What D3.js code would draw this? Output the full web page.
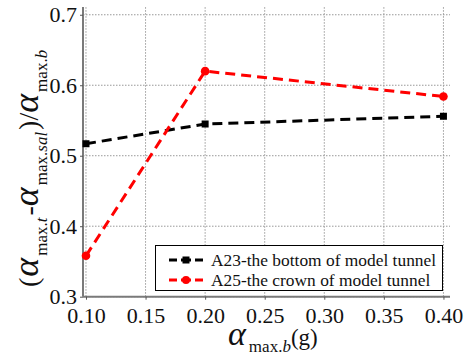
<!DOCTYPE html>
<html><head><meta charset="utf-8">
<script src="https://cdn.jsdelivr.net/npm/d3@7"></script>
<style>body{margin:0;background:#fff}svg{display:block}</style>
</head><body>
<svg id="c" width="470" height="358"></svg>
<script>
const xValues = [0.10, 0.20, 0.40];
const seriesA23 = [0.517, 0.545, 0.556];
const seriesA25 = [0.358, 0.620, 0.584];
const xTicks = [0.10, 0.15, 0.20, 0.25, 0.30, 0.35, 0.40];
const yTicks = [0.3, 0.4, 0.5, 0.6, 0.7];
const legendLabels = ["A23-the bottom of model tunnel", "A25-the crown of model tunnel"];

const svg = d3.select("#c");
const font = '"Liberation Serif"';
const x = d3.scaleLinear().domain([0.0975, 0.4055]).range([83, 450]);
const y = d3.scaleLinear().domain([0.3, 0.711]).range([296.7, 7]);

// grid
const g = svg.append("g");
g.selectAll(".vg").data(xTicks).enter().append("line")
  .attr("x1", d => x(d)).attr("x2", d => x(d)).attr("y1", y(0.3)).attr("y2", y(0.711))
  .attr("stroke", "#999").attr("stroke-width", 1).attr("stroke-dasharray", "1.5,1.5");
g.selectAll(".hg").data(yTicks).enter().append("line")
  .attr("x1", x(0.0975)).attr("x2", x(0.4055)).attr("y1", d => y(d)).attr("y2", d => y(d))
  .attr("stroke", "#999").attr("stroke-width", 1).attr("stroke-dasharray", "1.5,1.5");

// axes
const xAxis = d3.axisBottom(x).tickValues(xTicks).tickFormat(d3.format(".2f")).tickSize(3).tickPadding(8);
const yAxis = d3.axisLeft(y).tickValues(yTicks).tickFormat(d3.format(".1f")).tickSize(3).tickPadding(3);
const gx = svg.append("g").attr("transform", `translate(0,${y(0.3)})`).call(xAxis);
const gy = svg.append("g").attr("transform", `translate(${x(0.0975)},0)`).call(yAxis);
[gx, gy].forEach(a => {
  a.attr("font-family", "Liberation Serif").style("font-family", font).attr("font-size", 22);
  a.select(".domain").attr("stroke", "#7a7a7a").attr("stroke-width", 2);
  a.selectAll(".tick line").attr("stroke", "#555");
  a.selectAll(".tick text").attr("font-family", "Liberation Serif").style("font-family", font)
    .attr("font-size", 22).attr("fill", "#111");
});
gy.select(".domain").attr("d", `M-0,${y(0.711)}V${y(0.3)}`);
gx.select(".domain").attr("d", `M${x(0.0975)},0H${x(0.4055)}`);

// lines
const line = d3.line().x((d, i) => x(xValues[i])).y(d => y(d));
function drawSeries(vals, color, shape) {
  svg.append("path").datum(vals).attr("d", line).attr("fill", "none")
    .attr("stroke", color).attr("stroke-width", 3).attr("stroke-dasharray", "10,6");
  if (shape === "square") {
    svg.selectAll(null).data(vals).enter().append("rect")
      .attr("x", (d, i) => x(xValues[i]) - 3.5).attr("y", d => y(d) - 3.5)
      .attr("width", 7).attr("height", 7).attr("fill", color);
  } else {
    svg.selectAll(null).data(vals).enter().append("circle")
      .attr("cx", (d, i) => x(xValues[i])).attr("cy", d => y(d)).attr("r", 4.3).attr("fill", color);
  }
}
drawSeries(seriesA23, "#000", "square");
drawSeries(seriesA25, "#ff0000", "circle");

// legend
const lg = svg.append("g");
lg.append("rect").attr("x", 155.5).attr("y", 245.5).attr("width", 287).attr("height", 45)
  .attr("fill", "#fff").attr("stroke", "#000").attr("stroke-width", 1);
const lcolors = ["#000", "#ff0000"];
legendLabels.forEach((t, i) => {
  const cy = 260 + i * 20;
  lg.append("line").attr("x1", 169).attr("x2", 203).attr("y1", cy).attr("y2", cy)
    .attr("stroke", lcolors[i]).attr("stroke-width", 3).attr("stroke-dasharray", "8,4,10,4");
  if (i === 0) lg.append("rect").attr("x", 182.5).attr("y", cy - 3.5).attr("width", 7).attr("height", 7).attr("fill", lcolors[i]);
  else lg.append("circle").attr("cx", 186).attr("cy", cy).attr("r", 4).attr("fill", lcolors[i]);
  lg.append("text").attr("x", 211).attr("y", cy + 5.5).style("font-family", font).attr("font-size", 17.4)
    .attr("fill", "#111").text(t);
});

// x label
const xl = svg.append("text").attr("x", 228).attr("y", 345).style("font-family", font).attr("fill", "#111");
xl.append("tspan").attr("font-size", 34).attr("font-style", "italic").text("α");
xl.append("tspan").attr("font-size", 17).attr("dy", 7).attr("dx", 3).text("max.");
xl.append("tspan").attr("font-size", 17).attr("font-style", "italic").text("b");
xl.append("tspan").attr("font-size", 23).attr("dy", -7).text("(g)");

// y label
const yl = svg.append("text").attr("transform", "translate(38,287) rotate(-90)")
  .style("font-family", font).attr("fill", "#111");
yl.append("tspan").attr("font-size", 28).text("(");
yl.append("tspan").attr("font-size", 36).attr("font-style", "italic").attr("dx", 1).text("α");
yl.append("tspan").attr("font-size", 17).attr("dy", 9).attr("dx", 2).text("max.");
yl.append("tspan").attr("font-size", 17).attr("font-style", "italic").text("t");
yl.append("tspan").attr("font-size", 28).attr("dy", -9).attr("dx", 2).text("-");
yl.append("tspan").attr("font-size", 36).attr("font-style", "italic").text("α");
yl.append("tspan").attr("font-size", 17).attr("dy", 9).attr("dx", 2).text("max.");
yl.append("tspan").attr("font-size", 17).attr("font-style", "italic").text("sal");
yl.append("tspan").attr("font-size", 28).attr("dy", -9).attr("dx", 2).text(")/");
yl.append("tspan").attr("font-size", 36).attr("font-style", "italic").text("α");
yl.append("tspan").attr("font-size", 17).attr("dy", 9).attr("dx", 2).text("max.");
yl.append("tspan").attr("font-size", 17).attr("font-style", "italic").text("b");
</script>
</body></html>
